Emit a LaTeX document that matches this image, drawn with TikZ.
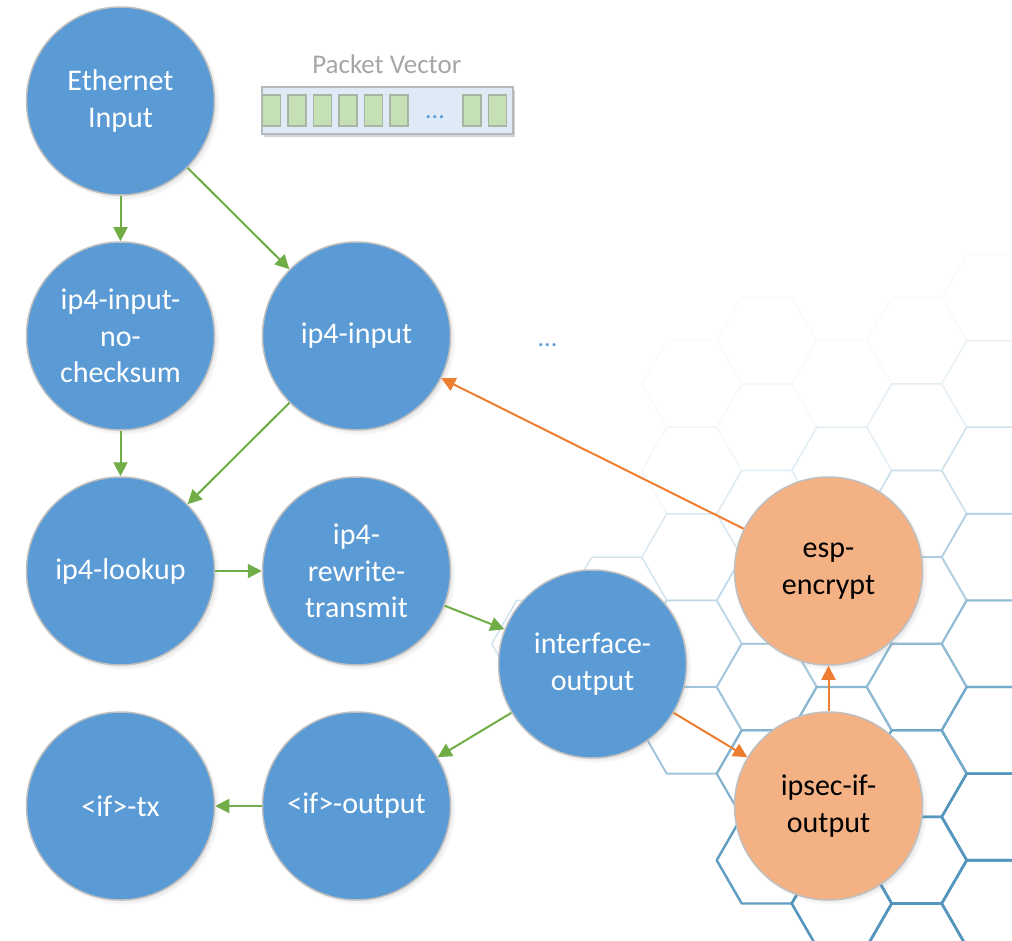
\documentclass[tikz,border=0pt]{standalone}
\usepackage{fontspec}
\setmainfont{Carlito}
\usetikzlibrary{arrows.meta,shadows,fadings}
\definecolor{nodeblue}{RGB}{91,155,213}
\definecolor{nodeorange}{RGB}{244,177,131}
\definecolor{arrgreen}{RGB}{112,173,71}
\definecolor{arrorange}{RGB}{237,125,49}
\definecolor{rimgray}{RGB}{191,191,191}
\definecolor{hexblue}{RGB}{84,150,190}
\definecolor{vecfill}{RGB}{222,235,247}
\definecolor{cellfill}{RGB}{197,224,180}
\definecolor{cellrim}{RGB}{170,180,165}
\definecolor{vecrim}{RGB}{180,185,190}
\definecolor{titlegray}{RGB}{166,166,166}
\tikzset{
  vnode/.style={circle, minimum size=188pt, inner sep=0pt, draw=rimgray, line width=1.5pt,
    align=center, font=\fontsize{30}{36.6}\selectfont,
    circular drop shadow={shadow xshift=3pt, shadow yshift=-3pt, shadow scale=1.02, opacity=0.45}},
  bluenode/.style={vnode, fill=nodeblue, text=white},
  orangenode/.style={vnode, fill=nodeorange, text=black},
  garrow/.style={draw=arrgreen, line width=2pt, -{Triangle[length=14pt,width=14pt]}},
  oarrow/.style={draw=arrorange, line width=2pt, -{Triangle[length=14pt,width=14pt]}},
  hexcell/.style={line join=round},
  vecbox/.style={draw=vecrim, fill=vecfill, line width=1.5pt, inner sep=0pt,
    drop shadow={shadow xshift=2pt, shadow yshift=-3pt, opacity=0.35}},
  pcell/.style={draw=cellrim, fill=cellfill, line width=1.2pt, inner sep=0pt,
    minimum width=18pt, minimum height=31pt},
  dots/.style={text=nodeblue, font=\fontsize{26}{30}\selectfont, anchor=base},
}
\begin{document}
\begin{tikzpicture}[x=1pt,y=-1pt]
\useasboundingbox (0,0) rectangle (1012,941);
% honeycomb background
\foreach \cx/\ylist in {
  541.7/{643.7},
  616.7/{600.4,687},
  691.7/{383.9,470.5,557.1,643.7,730.3},
  766.7/{340.6,427.2,513.8,600.4,687,773.6,860.2},
  841.7/{383.9,470.5,557.1,643.7,730.3,816.9,903.5},
  916.7/{340.6,427.2,513.8,600.4,687,773.6,860.2,946.8},
  991.7/{297.3,383.9,470.5,557.1,643.7,730.3,816.9,903.5,990.1}}{
  \foreach \cy in \ylist {
    \pgfmathsetmacro\base{max(0.001,min(1,(0.4*\cx+\cy-660)/540))}
    \pgfmathsetmacro\al{max(0.05,\base^1.3)}
    \pgfmathtruncatemacro\pc{100*\al}
    \pgfmathsetmacro\lw{1.1+1.5*\al}
    \draw[hexcell, draw=hexblue!\pc!white, line width=\lw pt]
      (\cx-50,\cy) -- (\cx-25,\cy-43.3) -- (\cx+25,\cy-43.3) -- (\cx+50,\cy)
      -- (\cx+25,\cy+43.3) -- (\cx-25,\cy+43.3) -- cycle;
  }
}
% packet vector
\node[text=titlegray, font=\fontsize{27}{31}\selectfont, anchor=base] (pvtitle) at (386.7,74) {Packet Vector};
\node[vecbox, minimum width=251pt, minimum height=47pt] (pv) at (387.5,110.5) {};
\foreach \k/\xx in {1/271.5,2/297,3/322.5,4/348,5/373.5,6/399,7/472,8/497.5}{
  \node[pcell] (cell\k) at (\xx,110.5) {};
}
\node[dots] (pvdots) at (435,119) {...};
\node[dots] (middots) at (547.5,346) {...};
% nodes
\node[bluenode] (eth) at (120.5,101) {Ethernet\\Input};
\node[bluenode] (nock) at (120.5,336) {ip4-input-\\no-\\checksum};
\node[bluenode] (ip4in) at (356.5,336) {ip4-input};
\node[bluenode] (lookup) at (120.5,571) {ip4-lookup};
\node[bluenode] (rewrite) at (356.5,571) {ip4-\\rewrite-\\transmit};
\node[bluenode] (iface) at (592.5,664) {interface-\\output};
\node[bluenode] (ifout) at (356.5,806) {<if>-output};
\node[bluenode] (iftx) at (120.5,806) {<if>-tx};
\node[orangenode] (esp) at (828.5,571) {esp-\\encrypt};
\node[orangenode] (ipsec) at (828.5,806) {ipsec-if-\\output};
% connectors
\draw[garrow] (eth) -- (nock);
\draw[garrow] (eth) -- (ip4in);
\draw[garrow] (nock) -- (lookup);
\draw[garrow] (ip4in) -- (lookup);
\draw[garrow] (lookup) -- (rewrite);
\draw[garrow] (rewrite) -- (iface);
\draw[garrow] (iface) -- (ifout);
\draw[garrow] (ifout) -- (iftx);
\draw[oarrow] (iface) -- (ipsec);
\draw[oarrow] (ipsec) -- (esp);
\draw[oarrow] (esp) -- (ip4in);
\end{tikzpicture}
\end{document}
